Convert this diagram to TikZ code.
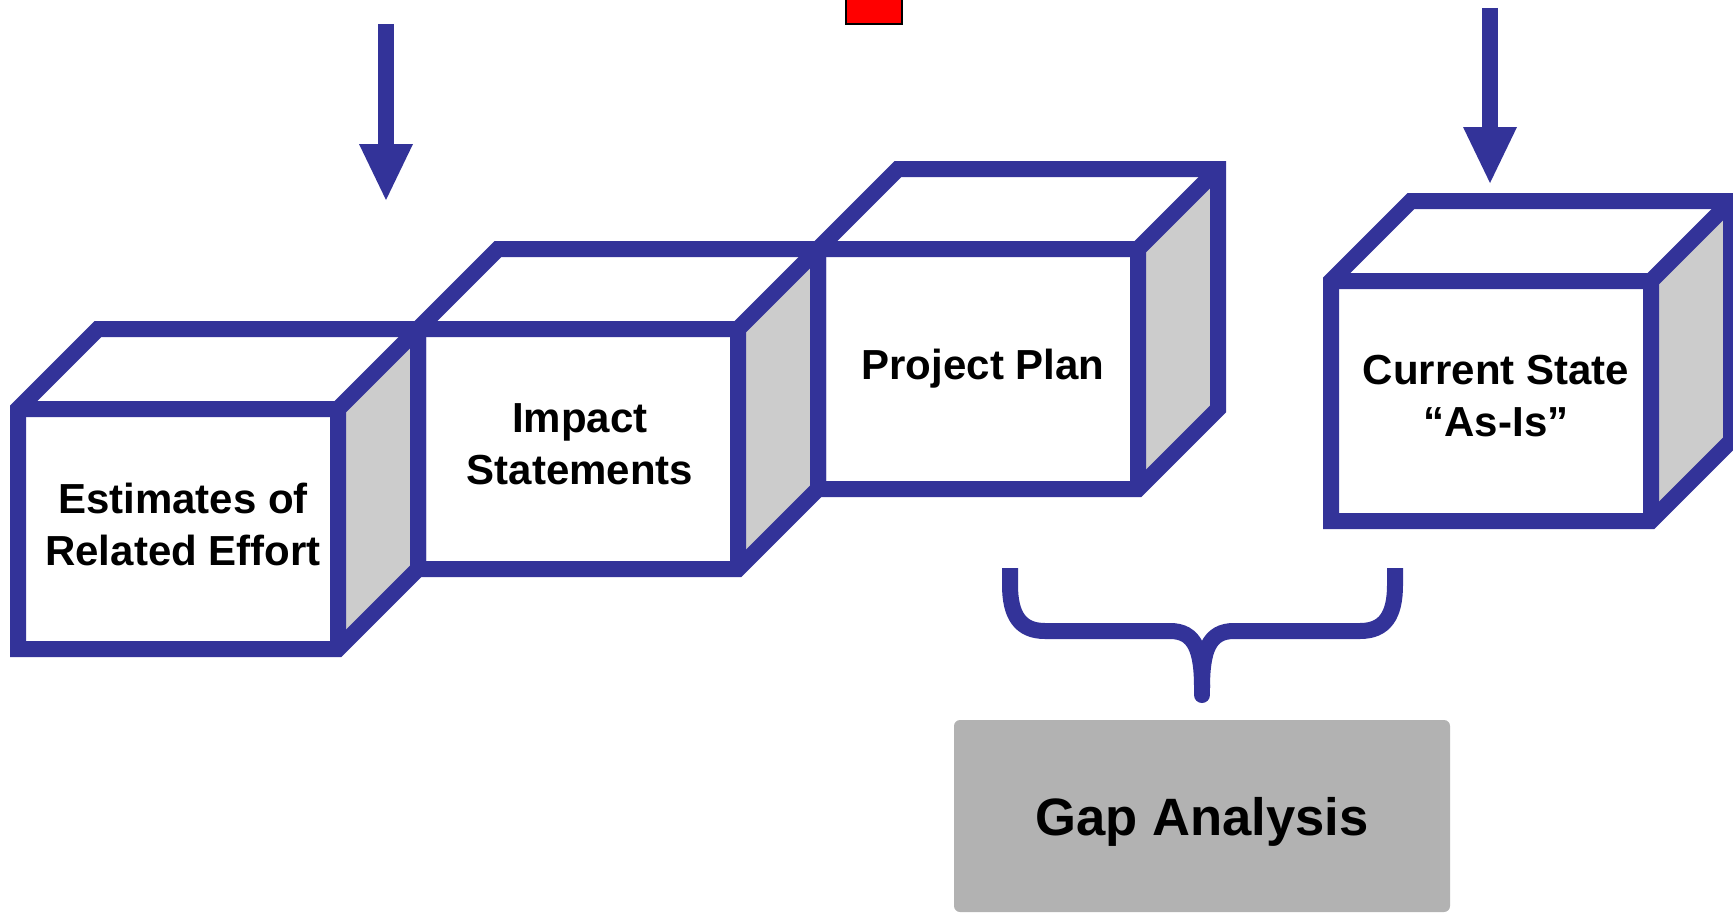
\documentclass[tikz,border=0pt]{standalone}
\usepackage{fontspec}
\setmainfont{Liberation Sans}
\usepackage{xcolor}
\usetikzlibrary{arrows.meta}
\definecolor{cubeblue}{RGB}{51,51,153}
\definecolor{sidegray}{RGB}{204,204,204}
\definecolor{gapgray}{RGB}{178,178,178}

\begin{document}
\begin{tikzpicture}[x=0.5pt,y=-0.5pt,
    cubeline/.style={cubeblue,line width=8pt,line join=miter},
    sideface/.style={fill=sidegray},
    boxtext/.style={font=\bfseries\fontsize{21}{26}\selectfont,align=center},
    inarrow/.style={cubeblue,line width=8pt,-{Triangle[length=28pt,width=27pt,line width=0pt]}}]
            \useasboundingbox (0,0) rectangle (1733,915);

            % small red marker on the top edge
            \filldraw[fill=red,draw=black,line width=0.65pt](846,-10) rectangle (902,24);

            % inputs coming in from above
            \coordinate (inL) at (386,24);
            \coordinate (tipL) at (386,200);
            \coordinate (inR) at (1490,8);
            \coordinate (tipR) at (1490,183);
            \draw[inarrow](inL) -- (tipL);
            \draw[inarrow](inR) -- (tipR);

            % first cube
            \fill[sideface](338,409) -- (418,329) -- (418,569) -- (338,649) -- cycle;
            \draw[cubeline](18,649) -- (18,409) -- (98,329) -- (418,329) -- (418,569) -- (338,649) -- cycle;
            \draw[cubeline](18,409) -- (338,409) -- (418,329) (338,409) -- (338,649);
            \node[boxtext] (est) at (183,524){Estimates of\\Related Effort};

            % second cube
            \fill[sideface](738,329) -- (818,249) -- (818,489) -- (738,569) -- cycle;
            \draw[cubeline](418,569) -- (418,329) -- (498,249) -- (818,249) -- (818,489) -- (738,569) -- cycle;
            \draw[cubeline](418,329) -- (738,329) -- (818,249) (738,329) -- (738,569);
            \node[boxtext] (imp) at (580,444){Impact\\Statements};

            % third cube
            \fill[sideface](1138,249) -- (1218,169) -- (1218,409) -- (1138,489) -- cycle;
            \draw[cubeline](818,489) -- (818,249) -- (898,169) -- (1218,169) -- (1218,409) -- (1138,489) -- cycle;
            \draw[cubeline](818,249) -- (1138,249) -- (1218,169) (1138,249) -- (1138,489);
            \node[boxtext] (plan) at (983,369){Project Plan};

            % fourth cube, on its own
            \fill[sideface](1651,281) -- (1731,201) -- (1731,441) -- (1651,521) -- cycle;
            \draw[cubeline](1331,521) -- (1331,281) -- (1411,201) -- (1731,201) -- (1731,441) -- (1651,521) -- cycle;
            \draw[cubeline](1331,281) -- (1651,281) -- (1731,201) (1651,281) -- (1651,521);
            \node[boxtext] (cur) at (1496,396){Current State\\``As-Is''};

            % result box
            \node[fill=gapgray,rounded corners=3pt,minimum width=248pt,minimum height=96pt,inner sep=0pt,text depth=0pt,
                font=\bfseries\fontsize{26.3}{30}\selectfont] (gap) at (1202,816){Gap Analysis};

            % brace joining plan and current state
            \coordinate (brL) at (1010,568);
            \coordinate (brR) at (1395,568);
            \coordinate (brM) at (1202,688);
            \coordinate (brTip) at (1202,695);
            \draw[cubeline](brL) -- (1010,585) .. controls (1010,615) and (1020,631) .. (1045,631) -- (1170,631) .. controls (1195,631) and (1202,650) .. (brM);
            \draw[cubeline](brR) -- (1395,585) .. controls (1395,615) and (1385,631) .. (1360,631) -- (1234,631) .. controls (1209,631) and (1202,650) .. (brM);
            \draw[cubeline,line cap=round](brM) -- (brTip);
        \end{tikzpicture}
\end{document}
